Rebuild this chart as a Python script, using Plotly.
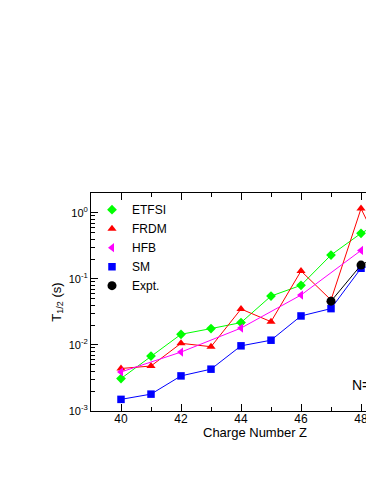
import plotly.graph_objects as go

# ---- data ----
Z = [40, 41, 42, 43, 44, 45, 46, 47, 48, 49]
etfsi = [0.0031, 0.0068, 0.0145, 0.0177, 0.0218, 0.055, 0.080, 0.23, 0.49, 0.90]
frdm = [0.0044, 0.0048, 0.0106, 0.0094, 0.035, 0.0225, 0.132, 0.048, 1.16, 0.14]
Z_hfb = [40, 42, 44, 46, 48]
hfb = [0.0039, 0.0078, 0.018, 0.057, 0.27]
sm = [0.0015, 0.0018, 0.0034, 0.0043, 0.0097, 0.0118, 0.0275, 0.0355, 0.145, 0.19]
Z_expt = [47, 48, 49]
expt = [0.046, 0.162, 0.28]

y_tickvals = [0.001, 0.01, 0.1, 1]
y_ticktext = ["10<sup>-3</sup>", "10<sup>-2</sup>", "10<sup>-1</sup>", "10<sup>0</sup>"]
x_tickvals = [40, 42, 44, 46, 48]

series = [
    ("ETFSI", Z, etfsi, "#00ff00", "diamond", 7.5),
    ("FRDM", Z, frdm, "#ff0000", "triangle-up", 8),
    ("HFB", Z_hfb, hfb, "#ff00ff", "triangle-left", 8),
    ("SM", Z, sm, "#0000ff", "square", 7.5),
    ("Expt.", Z_expt, expt, "#000000", "circle", 9),
]

FONT = "Liberation Sans, Arial, sans-serif"

fig = go.Figure()
for name, xs, ys, col, sym, sz in series:
    fig.add_trace(go.Scatter(
        x=xs, y=ys, mode="lines+markers", name=name, showlegend=False,
        line=dict(color=col, width=1),
        marker=dict(color=col, symbol=sym, size=sz),
    ))
for name, xs, ys, col, sym, sz in series:
    fig.add_trace(go.Scatter(
        x=[None], y=[None], mode="markers", name=name, showlegend=True,
        marker=dict(color=col, symbol=sym, size=sz),
    ))

# minor log ticks
minor_y = [m * 10.0 ** e for e in range(-3, 1) for m in range(2, 10)]

fig.update_layout(
    width=366, height=476,
    margin=dict(l=83, r=0, t=185, b=73),
    paper_bgcolor="white", plot_bgcolor="white",
    font=dict(family=FONT, size=12, color="black"),
    showlegend=True,
    legend=dict(x=0.0035, y=0.99, xanchor="left", yanchor="top",
                bgcolor="rgba(0,0,0,0)", font=dict(size=12)),
    xaxis=dict(
        range=[39, 48.433], tickmode="array", tickvals=x_tickvals,
        ticks="inside", ticklen=7, tickcolor="black",
        minor=dict(dtick=1, tick0=39, ticks="inside", ticklen=4, tickcolor="black"),
        showline=True, linecolor="black", linewidth=1, mirror="ticks",
        showgrid=False, zeroline=False, tickfont=dict(size=12),
        ticklabelstandoff=-3,
    ),
    yaxis=dict(
        type="log", range=[-3, 0.301], tickmode="array",
        tickvals=y_tickvals, ticktext=y_ticktext,
        ticks="inside", ticklen=7, tickcolor="black",
        minor=dict(tickmode="array", tickvals=minor_y, ticks="inside", ticklen=4,
                   tickcolor="black"),
        showline=True, linecolor="black", linewidth=1, mirror=False,
        showgrid=False, zeroline=False, tickfont=dict(size=11),
        title=dict(text="T<sub>1/2</sub> (s)", font=dict(size=13), standoff=4),
    ),
    annotations=[
        dict(text="Charge Number Z", xref="paper", yref="paper", x=0.578, y=-0.1,
             xanchor="center", yanchor="middle", showarrow=False, font=dict(size=13)),
        dict(text="N=82", xref="paper", yref="paper", x=0.915, y=0.119,
             xanchor="left", yanchor="middle", showarrow=False, font=dict(size=14)),
    ],
)

fig.write_html("out.html")
